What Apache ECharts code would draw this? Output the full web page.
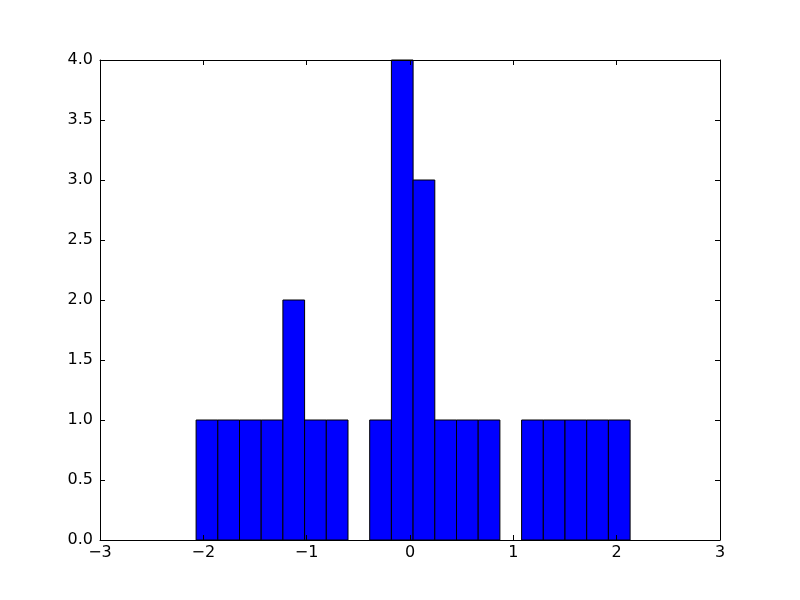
<!DOCTYPE html>
<html>
<head>
<meta charset="utf-8">
<script src="https://cdn.jsdelivr.net/npm/echarts@6/dist/echarts.min.js"></script>
<style>html,body{margin:0;padding:0;background:#fff}#c{width:800px;height:600px}</style>
</head>
<body>
<div id="c"></div>
<script>
const binEdges = [-2.07, -1.86, -1.65, -1.44, -1.23, -1.02, -0.81, -0.60, -0.39, -0.18, 0.03, 0.24, 0.45, 0.66, 0.87, 1.08, 1.29, 1.50, 1.71, 1.92, 2.13];
const counts = [1, 1, 1, 1, 2, 1, 1, 0, 1, 4, 3, 1, 1, 1, 0, 1, 1, 1, 1, 1];
const xTicks = [-3, -2, -1, 0, 1, 2, 3];
const yTicks = [0, 0.5, 1, 1.5, 2, 2.5, 3, 3.5, 4];

const data = counts.map((c, i) => [binEdges[i], binEdges[i + 1], c]);
const font = 'DejaVu Sans';
const minus = v => String(v).replace('-', '\u2212');

const chart = echarts.init(document.getElementById('c'));
const axisCommon = {
  z: 5,
  axisLine: { show: true, onZero: false, lineStyle: { color: '#000', width: 1 } },
  axisTick: { show: true, inside: true, length: 5, lineStyle: { color: '#000', width: 1 } },
  splitLine: { show: false }
};
chart.setOption({
  animation: false,
  grid: { left: 100, right: 80, top: 60, bottom: 60 },
  xAxis: [
    Object.assign({ type: 'value', min: xTicks[0], max: xTicks[xTicks.length - 1], interval: 1, position: 'bottom',
      axisLabel: { color: '#000', fontFamily: font, fontSize: 16, margin: 5, formatter: v => minus(v) } }, axisCommon),
    Object.assign({ type: 'value', min: xTicks[0], max: xTicks[xTicks.length - 1], interval: 1, position: 'top',
      axisLabel: { show: false } }, axisCommon)
  ],
  yAxis: [
    Object.assign({ type: 'value', min: yTicks[0], max: yTicks[yTicks.length - 1], interval: 0.5, position: 'left',
      axisLabel: { color: '#000', fontFamily: font, fontSize: 16, margin: 7, formatter: v => v.toFixed(1) } }, axisCommon),
    Object.assign({ type: 'value', min: yTicks[0], max: yTicks[yTicks.length - 1], interval: 0.5, position: 'right',
      axisLabel: { show: false } }, axisCommon)
  ],
  series: [{
    type: 'custom',
    xAxisIndex: 0,
    yAxisIndex: 0,
    z: 2,
    data: data,
    renderItem: function (params, api) {
      const c = api.value(2);
      if (!c) return null;
      const p0 = api.coord([api.value(0), c]);
      const p1 = api.coord([api.value(1), 0]);
      return {
        type: 'rect',
        shape: { x: p0[0], y: p0[1], width: p1[0] - p0[0], height: p1[1] - p0[1] },
        style: { fill: '#0000ff', stroke: '#000', lineWidth: 1 }
      };
    }
  }]
});
</script>
</body>
</html>
